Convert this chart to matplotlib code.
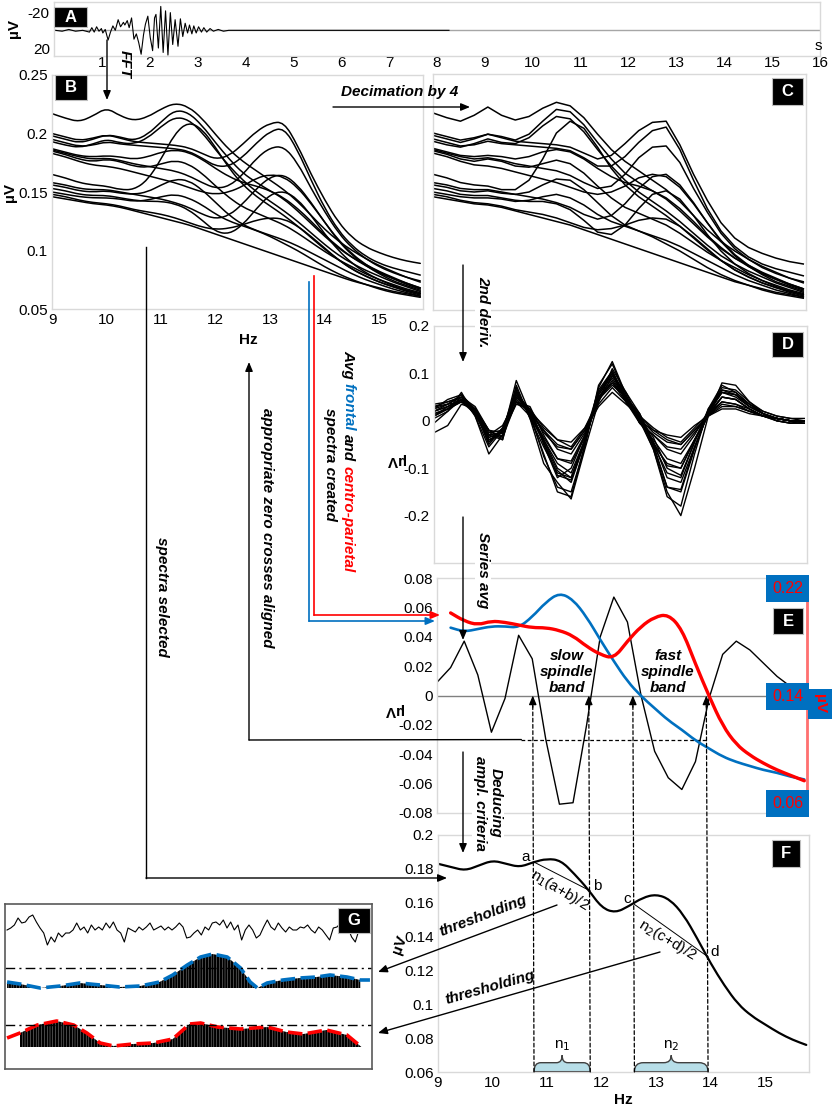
import numpy as np
import matplotlib
matplotlib.use('Agg')
import matplotlib.pyplot as plt
from matplotlib.path import Path
from matplotlib.patches import PathPatch, Rectangle, FancyArrowPatch, ConnectionPatch
from matplotlib.lines import Line2D

plt.rcParams['font.family'] = ['Liberation Sans', 'DejaVu Sans']
plt.rcParams['hatch.linewidth'] = 1.8

W, H = 834, 1107
BLUE = '#0070c0'
RED = '#ff0000'
GRID = '#d9d9d9'

# ---------------- data ----------------
# A: raw EEG (s, uV)
eeg_t = [0.03, 0.17, 0.31, 0.45, 0.60, 0.74, 0.79, 0.84, 0.89, 0.94, 0.99, 1.02, 1.07, 1.13, 1.18,
         1.23, 1.28, 1.34, 1.39, 1.45, 1.48, 1.53, 1.57, 1.62, 1.67, 1.72, 1.77, 1.82, 1.87, 1.91,
         1.96, 2.01, 2.06, 2.10, 2.13, 2.18, 2.23, 2.28, 2.33, 2.38, 2.43, 2.48, 2.53, 2.59, 2.64,
         2.69, 2.74, 2.79, 2.83, 2.88, 2.92, 2.97, 3.02, 3.08, 3.13, 3.19, 3.26, 3.33, 3.43, 3.54,
         3.65, 3.79, 8.25]
eeg_uv = [0, 1, -1, 1, 0, 2, -3, 2, -4, 1, -2, 3, -1, 11, 2,
          -5, 0, -12, -4, -9, -6, -11, -3, -14, 10, 4, 14, 27, 5, -7,
          -16, 8, 23, -14, -18, 20, -27, 25, -22, 28, -20, 16, -12, 18, -13,
          7, -8, 3, -6, 4, -5, 3, -4, 2, -3, 2, -2, 1, -1, 1,
          0, 0, 0]
a_ticks = list(range(1, 17))

# B/C: spectra, 9 .. 15.75 Hz in 0.25 Hz steps (values x 1e-3 uV)
hz = np.arange(28) * 0.25 + 9
spectra = np.array([
    [217, 213, 210, 215, 222, 215, 211, 214, 221, 226, 223, 213, 199, 186, 176, 168, 160, 152, 142, 130, 118, 108, 100, 93, 87, 82, 77, 73],
    [200, 197, 194, 196, 199, 196, 193, 192, 191, 190, 188, 183, 178, 181, 191, 202, 209, 210, 190, 165, 143, 124, 111, 103, 98, 94, 91, 89],
    [198, 195, 192, 195, 199, 197, 194, 199, 210, 220, 218, 207, 192, 178, 166, 158, 151, 144, 134, 123, 112, 102, 94, 88, 82, 77, 72, 68],
    [195, 192, 189, 190, 193, 191, 190, 189, 188, 187, 185, 179, 172, 172, 180, 192, 202, 205, 186, 160, 136, 117, 104, 95, 89, 85, 82, 79],
    [193, 190, 188, 191, 195, 192, 191, 196, 206, 214, 212, 201, 186, 172, 160, 150, 142, 134, 125, 115, 105, 96, 89, 83, 78, 73, 69, 65],
    [187, 184, 181, 180, 181, 180, 178, 180, 184, 186, 184, 178, 170, 163, 158, 155, 151, 145, 136, 125, 113, 103, 94, 87, 81, 76, 72, 68],
    [186, 183, 180, 178, 179, 177, 174, 172, 170, 168, 164, 158, 153, 155, 165, 179, 188, 189, 175, 153, 133, 115, 102, 93, 86, 81, 77, 74],
    [185, 182, 178, 176, 178, 176, 172, 171, 174, 177, 174, 166, 155, 145, 137, 132, 127, 122, 115, 107, 99, 92, 86, 80, 75, 71, 67, 64],
    [183, 180, 176, 173, 172, 170, 167, 164, 161, 158, 154, 150, 148, 150, 155, 162, 165, 163, 154, 140, 124, 109, 97, 88, 81, 76, 71, 67],
    [165, 162, 158, 156, 155, 152, 152, 160, 178, 200, 210, 204, 188, 170, 156, 146, 138, 130, 121, 111, 101, 92, 84, 78, 73, 69, 65, 62],
    [158, 156, 153, 152, 152, 150, 148, 146, 144, 141, 137, 131, 127, 130, 140, 153, 163, 165, 156, 141, 124, 108, 96, 87, 80, 74, 70, 66],
    [156, 154, 151, 150, 151, 149, 148, 150, 156, 161, 160, 152, 141, 130, 122, 117, 113, 109, 104, 98, 92, 86, 80, 75, 71, 67, 64, 61],
    [153, 151, 148, 147, 147, 145, 143, 142, 142, 140, 135, 126, 116, 114, 122, 136, 148, 151, 144, 130, 114, 100, 89, 81, 75, 70, 66, 63],
    [150, 148, 146, 145, 145, 144, 142, 143, 146, 148, 145, 139, 131, 125, 121, 117, 112, 106, 100, 93, 86, 80, 75, 71, 67, 64, 62, 60],
    [148, 146, 143, 141, 140, 138, 135, 133, 131, 128, 124, 120, 118, 119, 122, 126, 128, 127, 121, 112, 102, 92, 84, 78, 73, 69, 66, 63],
    [146, 144, 142, 140, 139, 137, 134, 131, 128, 125, 122, 118, 114, 110, 106, 102, 98, 94, 90, 86, 82, 78, 74, 71, 68, 65, 63, 61],
]) / 1000

# D: 2nd derivatives (x 1e-3)
deriv2 = np.array([
    [20, 35, 55, 25, -30, -25, 50, 20, -40, -100, -120, -40, 60, 100, 40, -5, -30, -60, -70, -30, 20, 60, 50, 30, 15, 5, 0, 0],
    [10, 30, 45, 15, -40, -30, 65, 10, -70, -150, -160, -50, 70, 125, 55, -5, -40, -80, -90, -40, 10, 50, 45, 25, 10, 0, -5, -5],
    [30, 40, 50, 30, -20, -35, 40, 30, -30, -80, -90, -35, 50, 80, 50, 10, -50, -140, -150, -60, 20, 70, 65, 40, 20, 10, 5, 0],
    [-5, 20, 60, 10, -55, -20, 70, 5, -90, -130, -165, -60, 40, 110, 60, 0, -60, -150, -200, -100, 10, 80, 75, 40, 15, 0, -5, 0],
    [25, 45, 55, 20, -45, -15, 55, 25, -50, -120, -100, -30, 65, 105, 45, 5, -35, -100, -115, -45, 25, 65, 55, 35, 20, 10, 5, 5],
    [15, 25, 40, 20, -30, -10, 45, 15, -20, -50, -60, -20, 30, 60, 35, 10, -20, -40, -50, -20, 10, 30, 30, 20, 10, 5, 0, 0],
    [20, 30, 45, 25, -25, -20, 50, 20, -40, -90, -110, -40, 50, 90, 45, 5, -60, -160, -180, -70, 25, 75, 60, 35, 15, 5, 0, 0],
    [30, 35, 50, 15, -35, -25, 40, 10, -45, -105, -130, -45, 55, 95, 50, 10, -15, -35, -45, -15, 15, 40, 35, 25, 10, 5, 0, 0],
    [-25, -10, 35, 25, -20, -40, 60, 20, -10, -40, -55, -15, 45, 75, 50, 15, -45, -120, -130, -55, 15, 60, 55, 30, 15, 5, 0, -5],
    [10, 25, 50, 10, -70, -30, 85, 15, -75, -140, -150, -55, 75, 120, 50, -5, -30, -55, -60, -25, 10, 40, 35, 20, 10, 0, -5, -5],
    [20, 30, 45, 20, -35, -25, 40, 20, -20, -60, -70, -25, 45, 85, 45, 10, -50, -110, -120, -45, 20, 60, 55, 30, 15, 5, 0, 0],
    [15, 25, 40, 15, -40, -25, 55, 15, -35, -80, -85, -30, 45, 80, 40, 5, -25, -45, -50, -20, 10, 35, 30, 20, 10, 5, 0, 0],
    [35, 40, 50, 20, -50, -15, 50, 20, -25, -55, -60, -20, 40, 95, 60, 15, -50, -90, -100, -40, 15, 50, 45, 25, 10, 5, 0, 0],
    [5, 20, 45, 15, -30, -40, 75, 5, -55, -110, -120, -40, 55, 100, 40, 0, -20, -30, -35, -10, 10, 25, 25, 15, 10, 5, 0, 0],
    [25, 35, 40, 25, -20, -25, 35, 25, -15, -40, -45, -15, 35, 70, 40, 10, -55, -140, -145, -55, 15, 65, 60, 35, 15, 5, 0, 0],
    [10, 25, 45, 20, -45, -20, 60, 15, -45, -115, -125, -45, 60, 105, 50, 0, -45, -95, -100, -40, 15, 50, 45, 25, 10, 5, 0, 0],
]) / 1000

# E: series average of 2nd deriv. and average spectra
avg_deriv = np.array([9, 19, 37, 14, -25, -2, 41, 25, -30, -74, -73, -20, 40, 67, 50, 0,
                      -38, -56, -64, -45, -2, 28, 37, 31, 22, 13, 6, 6]) / 1000
avg_hz = hz[1:]
frontal = np.array([191, 188, 190, 192, 192, 191, 199, 210, 217, 212, 199, 182, 166, 151,
                    140, 131, 122, 115, 107, 101, 95, 91, 88, 85, 83, 80, 78]) / 1000
centro = np.array([202, 196, 193, 196, 195, 193, 191, 191, 189, 185, 177, 171, 168, 181,
                   192, 199, 201, 190, 164, 140, 118, 104, 96, 90, 85, 81, 77]) / 1000
crit_level = -0.03

# F: selected spectrum and band limits
f_spec = np.array([183, 181, 179, 182, 185, 183, 181, 184, 186, 185, 177, 168, 157, 154,
                   158, 163, 165, 162, 153, 139, 124, 111, 100, 93, 88, 83, 79, 76]) / 1000
zero_cross = [10.76, 11.79, 12.6, 13.95]
abcd = [0.184, 0.167, 0.159, 0.128]

# G: thresholding example
g_eeg = [0, 2, 5, 12, 7, 8, 13, 15, 8, 2, -3, -15, -7, -12, -3, -7, -3, -3, 0, 7,
         0, 3, -3, 5, 0, 3, 0, 7, 2, 8, 0, -3, -12, 2, 0, -2, 3, 0, 3, 7,
         0, 2, 4, 0, 3, 0, 3, 7, 3, -8, -7, -3, 0, -5, 3, 0, 7, 8, 5, 10,
         2, 8, 0, 5, -10, 0, 5, 0, -8, -5, 3, 10, 3, 0, 7, 2, -2, 3, 0, 0,
         3, 2, 5, 0, -3, 3, 0, -5, -10, 2, 3, 7, 0, 2, -7, -12, 0, -3, -2, -2]
g_blue_t = [0, 1.07, 2.73, 4.4, 6.0, 7.7, 9.3, 11.0, 12.6, 13.7, 14.9, 16.0, 17.0, 18.2,
            19.3, 20.1, 20.7, 21.5, 22.8, 24.2, 25.6, 26.7, 28.1, 29.2, 30.0]
g_blue_env = [6, 4, 0, 2, 5, 3, 1, 2, 6, 13, 23, 31, 34, 31, 20, 6, 0, 5, 8, 10, 11, 13, 11, 8, 8]
g_red_t = [0, 1.07, 2.5, 4.1, 5.5, 6.6, 7.7, 8.8, 10.4, 12.1, 13.7, 15.1, 16.0, 17.4,
           19.3, 21.5, 23.1, 24.5, 26.4, 28.1, 29.3]
g_red_env = [9, 14, 22, 26, 22, 14, 4, 1, 3, 4, 8, 23, 24, 20, 18, 20, 15, 13, 17, 12, 0]
g_blue_thr = 20
g_red_thr = 22

# ---------------- helpers ----------------
fig = plt.figure(figsize=(W / 100, H / 100), dpi=100)


def fp(x, y):
    return (x / W, 1 - y / H)


def add_ax(x0, y0, x1, y1):
    return fig.add_axes([x0 / W, 1 - y1 / H, (x1 - x0) / W, (y1 - y0) / H])


def frame(ax, color=GRID):
    for s in ax.spines.values():
        s.set_color(color)
        s.set_linewidth(1)
    ax.tick_params(labelsize=11, length=0, pad=3)


def smooth(ax, x, y, **kw):
    pts = np.column_stack([x, y])
    verts = [pts[0], (pts[0] + pts[1]) / 2]
    codes = [Path.MOVETO, Path.LINETO]
    for i in range(1, len(pts) - 1):
        verts += [pts[i], (pts[i] + pts[i + 1]) / 2]
        codes += [Path.CURVE3, Path.CURVE3]
    verts.append(pts[-1])
    codes.append(Path.LINETO)
    ax.add_patch(PathPatch(Path(verts, codes), fill=False, capstyle='round', **kw))


HEAD = '-|>,head_length=0.6,head_width=0.25'


def arrow(pts, color='k', lw=1.0):
    pts = [fp(*p) for p in pts]
    if len(pts) > 2:
        fig.add_artist(Line2D([p[0] for p in pts[:-1]], [p[1] for p in pts[:-1]],
                              transform=fig.transFigure, color=color, lw=lw))
    fig.add_artist(FancyArrowPatch(pts[-2], pts[-1], transform=fig.transFigure,
                                   arrowstyle=HEAD, mutation_scale=9, color=color, lw=lw,
                                   shrinkA=0, shrinkB=0))


def note(x, y, s, rot=0, white=False, **kw):
    kw.setdefault('fontsize', 11)
    kw.setdefault('fontweight', 'bold')
    kw.setdefault('fontstyle', 'italic')
    bb = dict(fc='white', ec='none', pad=1) if white else None
    return fig.text(*fp(x, y), s, rotation=rot, ha='center', va='center',
                    rotation_mode='anchor', bbox=bb, **kw)


def letter(x0, y0, x1, y1, s):
    fig.add_artist(Rectangle(fp(x0, y1), (x1 - x0) / W, (y1 - y0) / H,
                             transform=fig.transFigure, fc='black', ec='#bfbfbf', lw=0.8))
    fig.text(*fp((x0 + x1) / 2, (y0 + y1) / 2), s, color='white', fontweight='bold',
             fontsize=12, ha='center', va='center')


def brace(ax, x0, x1, y0, y1, y2):
    w = x1 - x0
    xm = (x0 + x1) / 2
    verts = [(x0, y0), (x0, y1), (x0 + 0.12 * w, y1), (xm - 0.1 * w, y1),
             (xm, y1), (xm, y2), (xm, y1), (xm + 0.1 * w, y1),
             (x1 - 0.12 * w, y1), (x1, y1), (x1, y0), (x0, y0)]
    codes = [Path.MOVETO, Path.CURVE3, Path.CURVE3, Path.LINETO,
             Path.CURVE3, Path.CURVE3, Path.CURVE3, Path.CURVE3,
             Path.LINETO, Path.CURVE3, Path.CURVE3, Path.CLOSEPOLY]
    ax.add_patch(PathPatch(Path(verts, codes), fc='#b7dee8', ec='#404040', lw=1))


# ---------------- A ----------------
ax_a = add_ax(54, 2, 820, 56)
frame(ax_a)
ax_a.axhline(0, color='#a6a6a6', lw=1)
ax_a.plot(eeg_t, eeg_uv, color='k', lw=0.8)
ax_a.set_xlim(0, 16)
ax_a.set_ylim(29, -32)
ax_a.set_xticks(a_ticks)
ax_a.set_yticks([-20, 20])
ax_a.set_yticklabels(['-20', '20'])
ax_a.tick_params(axis='x', pad=0)
fig.text(*fp(14, 29), 'µV', rotation=90, fontweight='bold', fontsize=11, ha='center', va='center')
fig.text(*fp(818, 46), 's', fontsize=11, ha='center', va='center')

# ---------------- B ----------------
ax_b = add_ax(52, 75, 423, 309)
frame(ax_b)
for row in spectra:
    smooth(ax_b, hz, row, ec='k', lw=1.1)
ax_b.set_xlim(9, 15.8)
ax_b.set_ylim(0.05, 0.25)
ax_b.set_xticks(range(9, 16))
ax_b.set_yticks([0.05, 0.1, 0.15, 0.2, 0.25])
ax_b.set_yticklabels(['0.05', '0.1', '0.15', '0.2', '0.25'])
fig.text(*fp(10, 193), 'µV', rotation=90, fontweight='bold', fontsize=11, ha='center', va='center')
fig.text(*fp(248, 340), 'Hz', fontweight='bold', fontsize=11, ha='center', va='center')

# ---------------- C ----------------
ax_c = add_ax(433, 74, 806, 310)
frame(ax_c)
for row in spectra:
    ax_c.plot(hz, row, color='k', lw=1.1)
ax_c.set_xlim(9, 15.8)
ax_c.set_ylim(0.05, 0.25)
ax_c.set_xticks([])
ax_c.set_yticks([])

# ---------------- D ----------------
ax_d = add_ax(434, 326, 807, 563)
frame(ax_d)
for row in deriv2:
    ax_d.plot(hz, row, color='k', lw=1.0)
ax_d.set_xlim(9, 15.8)
ax_d.set_ylim(-0.3, 0.2)
ax_d.set_xticks([])
ax_d.set_yticks([-0.2, -0.1, 0, 0.1, 0.2])
ax_d.set_yticklabels(['-0.2', '-0.1', '0', '0.1', '0.2'])
fig.text(*fp(395, 460), 'µV', rotation=180, fontweight='bold', fontsize=11, ha='center', va='center')

# ---------------- E ----------------
ax_e = add_ax(437, 578, 807, 813)
frame(ax_e)
ax_e.axhline(0, color='#808080', lw=1)
ax_e.plot(hz, avg_deriv, color='k', lw=1.0)
ax_e.set_xlim(9, 15.8)
ax_e.set_ylim(-0.08, 0.08)
ax_e.set_xticks([])
e_ticks = [-0.08, -0.06, -0.04, -0.02, 0, 0.02, 0.04, 0.06, 0.08]
ax_e.set_yticks(e_ticks)
ax_e.set_yticklabels(['-0.08', '-0.06', '-0.04', '-0.02', '0', '0.02', '0.04', '0.06', '0.08'])
ax_e.plot([10.55, zero_cross[3]], [crit_level, crit_level], color='k', lw=0.9, ls=(0, (3, 2)))
fig.text(*fp(393, 710), 'µV', rotation=180, fontweight='bold', fontsize=11, ha='center', va='center')

ax_e2 = ax_e.twinx()
ax_e2.set_ylim(0.053, 0.228)
ax_e2.set_yticks([])
for s in ax_e2.spines.values():
    s.set_visible(False)
ax_e2.spines['right'].set_visible(True)
ax_e2.spines['right'].set_color('#ff7070')
ax_e2.spines['right'].set_linewidth(2)
smooth(ax_e2, avg_hz, frontal, ec=BLUE, lw=1.9)
smooth(ax_e2, avg_hz, centro, ec=RED, lw=2.4)
for v in [0.22, 0.14, 0.06]:
    ax_e2.text(0.948, v, f'{v:.2f}', transform=ax_e2.get_yaxis_transform(), color=RED,
               fontsize=11.5, ha='center', va='center',
               bbox=dict(boxstyle='square,pad=0.38', fc=BLUE, ec='none'))
fig.text(*fp(820, 704), 'µV', rotation=270, color=RED, fontweight='bold', fontsize=11,
         ha='center', va='center', bbox=dict(boxstyle='square,pad=0.35', fc=BLUE, ec='none'))

# ---------------- F ----------------
ax_f = add_ax(438, 835, 809, 1072)
frame(ax_f)
smooth(ax_f, hz, f_spec, ec='k', lw=1.6)
ax_f.set_xlim(9, 15.8)
ax_f.set_ylim(0.06, 0.2)
ax_f.set_xticks(range(9, 16))
ax_f.set_yticks([0.06, 0.08, 0.1, 0.12, 0.14, 0.16, 0.18, 0.2])
ax_f.set_yticklabels(['0.06', '0.08', '0.1', '0.12', '0.14', '0.16', '0.18', '0.2'])
ax_f.set_xlabel('Hz', fontweight='bold', fontsize=11, labelpad=2)
ax_f.plot(zero_cross[:2], abcd[:2], color='k', lw=0.7)
ax_f.plot(zero_cross[2:], abcd[2:], color='k', lw=0.7)
for x, v, s, dx in zip(zero_cross, abcd, 'abcd', [-0.15, 0.13, -0.13, 0.12]):
    ax_f.text(x + dx, v + 0.003, s, fontsize=11, ha='center', va='center')
ax_f.text(11.23, 0.1675, 'n$_1$(a+b)/2', fontsize=11, rotation=-31, ha='center', va='center',
          rotation_mode='anchor')
ax_f.text(13.2, 0.138, 'n$_2$(c+d)/2', fontsize=11, rotation=-31, ha='center', va='center',
          rotation_mode='anchor')
brace(ax_f, zero_cross[0], zero_cross[1], 0.0602, 0.0655, 0.0699)
brace(ax_f, zero_cross[2], zero_cross[3], 0.0602, 0.0655, 0.0699)
ax_f.text(np.mean(zero_cross[:2]), 0.0755, 'n$_1$', fontsize=11, ha='center', va='center')
ax_f.text(np.mean(zero_cross[2:]), 0.0755, 'n$_2$', fontsize=11, ha='center', va='center')
fig.text(*fp(400, 945), 'µV', rotation=70, fontweight='bold', fontsize=11, ha='center', va='center')

# dashed links F -> E zero crossings
for x in zero_cross:
    fig.add_artist(ConnectionPatch(xyA=(x, 0.06), coordsA=ax_f.transData,
                                   xyB=(x, -0.006), coordsB=ax_e.transData,
                                   color='k', lw=0.9, ls=(0, (3, 2))))
    ax_e.annotate('', xy=(x, 0), xytext=(x, -0.008),
                  arrowprops=dict(arrowstyle=HEAD, mutation_scale=9, lw=0.9, color='k',
                                  shrinkA=0, shrinkB=0))

# ---------------- G ----------------
ax_g = add_ax(5, 904, 372, 1069)
for s in ax_g.spines.values():
    s.set_color('#595959')
    s.set_linewidth(1.2)
ax_g.set_xticks([])
ax_g.set_yticks([])
ax_g.set_xlim(-0.17, 30.17)
ax_g.set_ylim(0, 165)
g_t = np.linspace(0, 30, len(g_eeg))
ax_g.plot(g_t, 139 + np.array(g_eeg), color='k', lw=0.8)
ax_g.fill_between(g_blue_t[:-1], 81, 81 + np.array(g_blue_env[:-1]), facecolor='none',
                  edgecolor='k', hatch='||||||', linewidth=0)
ax_g.plot(g_blue_t, 81 + np.array(g_blue_env), color=BLUE, lw=2.6, ls=(0, (4, 1.5)))
ax_g.axhline(81 + g_blue_thr, color='k', lw=1, ls=(0, (7, 3, 1.5, 3)))
ax_g.fill_between(g_red_t[1:], 22, 22 + np.array(g_red_env[1:]), facecolor='none',
                  edgecolor='k', hatch='||||||', linewidth=0)
ax_g.plot(g_red_t, 22 + np.array(g_red_env), color=RED, lw=2.6, ls=(0, (4, 1.5)))
ax_g.axhline(22 + g_red_thr, color='k', lw=1, ls=(0, (7, 3, 1.5, 3)))

# ---------------- panel letters ----------------
letter(54, 7, 87, 27, 'A')
letter(55, 75, 87, 100, 'B')
letter(772, 78, 803, 105, 'C')
letter(772, 332, 803, 357, 'D')
letter(773, 608, 803, 634, 'E')
letter(772, 840, 800, 867, 'F')
letter(338, 908, 370, 933, 'G')

# ---------------- flow arrows and notes ----------------
arrow([(107, 40), (107, 100)])
note(125, 64, 'FFT', rot=270)
arrow([(333, 107), (470, 107)])
note(400, 92, 'Decimation by 4')
arrow([(463, 265), (463, 362)])
note(483, 312, '2nd deriv.', rot=270, white=True)
arrow([(463, 517), (463, 640)])
note(483, 570, 'Series avg', rot=270, white=True)
arrow([(463, 752), (463, 853)])
fig.text(*fp(488, 803), 'Deducing\nampl. criteria', rotation=270, ha='center', va='center',
         multialignment='center', fontsize=11, fontweight='bold', fontstyle='italic',
         linespacing=1.1, bbox=dict(fc='white', ec='none', pad=1))

# spectra selected
arrow([(146, 247), (146, 878), (447, 878)])
note(162, 597, 'spectra selected', rot=270)

# zero crosses aligned
fig.add_artist(ConnectionPatch(xyA=(10.55, crit_level), coordsA=ax_e.transData,
                               xyB=fp(249, 740), coordsB='figure fraction', color='k', lw=1))
arrow([(249, 740), (249, 362)])
note(267, 528, 'appropriate zero crosses aligned', rot=270)

# avg frontal / centro-parietal
arrow([(309, 282), (309, 621), (435, 621)], color=BLUE, lw=1.2)
arrow([(314, 276), (314, 615), (440, 615)], color=RED, lw=1.2)
r = fig.canvas.get_renderer()
ypos = 350
for s, c in [('Avg', 'k'), ('frontal', BLUE), ('and', 'k'), ('centro-parietal', RED)]:
    t = fig.text(*fp(348, ypos), s, color=c, rotation=270, ha='center', va='top',
                 fontsize=11, fontweight='bold', fontstyle='italic')
    ypos += t.get_window_extent(r).height + 4
note(330, 464, 'spectra created', rot=270)

# spindle bands
note(567, 672, 'slow\nspindle\nband', linespacing=1.2)
note(668, 672, 'fast\nspindle\nband', linespacing=1.2)

# thresholding
arrow([(557, 905), (378, 972)])
note(483, 916, 'thresholding', rot=21)
arrow([(660, 952), (378, 1033)])
note(490, 987, 'thresholding', rot=16)

fig.savefig('out.png', dpi=100)
